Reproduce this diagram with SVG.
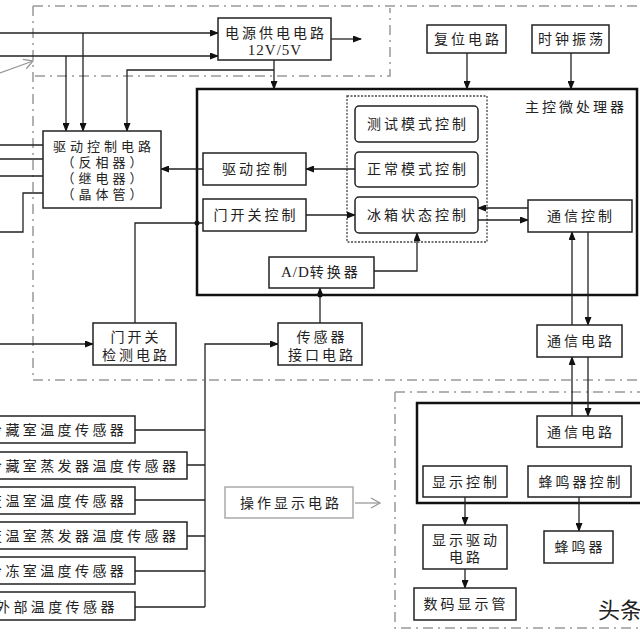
<svg xmlns="http://www.w3.org/2000/svg" width="640" height="640" viewBox="0 0 640 640">
<style>
.bg{fill:#fff}
.b{fill:#fff;stroke:#222;stroke-width:1.5}
.k{fill:#fff;stroke:#111;stroke-width:2.5}
.r{fill:#fff;stroke:#222;stroke-width:1.5}
.g{fill:#fff;stroke:#aaa;stroke-width:1.5}
.dd{fill:none;stroke:#999;stroke-width:1.5;stroke-dasharray:10,5,2,5}
.dot{fill:none;stroke:#444;stroke-width:1.3;stroke-dasharray:2,1.5}
.c{fill:none;stroke:#222;stroke-width:1.3}
.cg{fill:none;stroke:#999;stroke-width:1.3}
text{font-family:"Liberation Serif","Noto Sans CJK SC",serif;font-size:14px;letter-spacing:3px;fill:#222}
.m{text-anchor:middle}
.sm{font-size:13px;letter-spacing:4px}
.lat{font-size:15px;letter-spacing:1px}
</style>
<defs>
<marker id="a" markerWidth="9" markerHeight="7" refX="8" refY="3.5" orient="auto" markerUnits="userSpaceOnUse">
<path d="M0,0 L9,3.5 L0,7 z" fill="#111"/>
</marker>
<marker id="ag" markerWidth="12" markerHeight="12" refX="10" refY="6" orient="auto" markerUnits="userSpaceOnUse">
<path d="M1,1 L10,6 L1,11" fill="none" stroke="#999" stroke-width="1.3"/>
</marker>
</defs>
<rect class="bg" x="0" y="0" width="640" height="640"/>
<g id="regions">
<path class="dd" d="M33,6 H645 M33,6 V380 M33,380 H645 M35,76 H390 V8"/>
<path class="dd" d="M395,392 H645 M395,392 V628 H645"/>
</g>
<g id="mcu">
<rect class="k" x="197" y="89" width="440" height="206"/>
<text x="627" y="112" text-anchor="end" style="letter-spacing:3px">主控微处理器</text>
<rect class="dot" x="347" y="96" width="140" height="146"/>
</g>
<g id="board2">
<rect class="k" x="417" y="403" width="240" height="100"/>
</g>
<g id="connectors">
<path class="c" d="M0,33 H218" marker-end="url(#a)"/>
<path class="c" d="M0,56 H218" marker-end="url(#a)"/>
<path class="c" d="M83,33 V131" marker-end="url(#a)"/>
<path class="c" d="M66,56 V131" marker-end="url(#a)"/>
<path class="c" d="M331,39 H361" marker-end="url(#a)"/>
<path class="c" d="M274,60 V89" marker-end="url(#a)"/>
<path class="c" d="M274,70 H127 V131" marker-end="url(#a)"/>
<path class="c" d="M467,53 V89" marker-end="url(#a)"/>
<path class="c" d="M571,53 V89" marker-end="url(#a)"/>
<path class="c" d="M0,145 H43 M0,159 H43 M0,176 H43 M43,193 H23 V232 H0"/>
<path class="c" d="M203,169 H161" marker-end="url(#a)"/>
<path class="c" d="M355,169 H306" marker-end="url(#a)"/>
<path class="c" d="M306,215 H355" marker-end="url(#a)"/>
<path class="c" d="M135,323 V223 H203"/>
<circle cx="197" cy="223" r="2.5" fill="#111"/>
<path class="c" d="M0,344 H93" marker-end="url(#a)"/>
<path class="c" d="M374,271 H417 V233" marker-end="url(#a)"/>
<path class="c" d="M320,323 V288" marker-end="url(#a)"/>
<circle cx="320" cy="295" r="2.5" fill="#111"/>
<path class="c" d="M205,607 V344 H278" marker-end="url(#a)"/>
<path class="c" d="M135,430 H205 M187,465 H205 M135,500 H205 M187,536 H205 M135,571 H205 M135,607 H205"/>
<path class="c" d="M528,208 H478" marker-end="url(#a)"/>
<path class="c" d="M478,220 H528" marker-end="url(#a)"/>
<path class="c" d="M572,325 V232" marker-end="url(#a)"/>
<path class="c" d="M588,232 V325" marker-end="url(#a)"/>
<path class="c" d="M572,416 V357" marker-end="url(#a)"/>
<path class="c" d="M588,357 V416" marker-end="url(#a)"/>
<path class="c" d="M465,497 V525" marker-end="url(#a)"/>
<path class="c" d="M579,497 V531" marker-end="url(#a)"/>
<path class="c" d="M465,569 V588" marker-end="url(#a)"/>
<path class="cg" d="M0,73 L33,61" marker-end="url(#ag)"/>
<path class="cg" d="M355,503 H380" marker-end="url(#ag)"/>
</g>
<g id="power"><rect class="b" x="218" y="18" width="113" height="42"/>
<text class="m" x="276" y="38">电源供电电路</text>
<text class="m lat" x="275" y="55">12V/5V</text></g>
<g id="reset"><rect class="b" x="427" y="25" width="79" height="28"/><text class="m" x="468" y="44">复位电路</text></g>
<g id="clock"><rect class="b" x="532" y="25" width="77" height="28"/><text class="m" x="572" y="44">时钟振荡</text></g>
<g id="test"><rect class="r" x="355" y="106" width="123" height="36" rx="4"/><text class="m" x="418" y="129">测试模式控制</text></g>
<g id="normal"><rect class="r" x="355" y="152" width="123" height="35" rx="4"/><text class="m" x="418" y="174">正常模式控制</text></g>
<g id="state"><rect class="r" x="355" y="197" width="123" height="36" rx="4"/><text class="m" x="418" y="220">冰箱状态控制</text></g>
<g id="commctrl"><rect class="b" x="528" y="200" width="104" height="32"/><text class="m" x="581" y="221">通信控制</text></g>
<g id="drivectrl"><rect class="b" x="203" y="153" width="103" height="32"/><text class="m" x="256" y="174">驱动控制</text></g>
<g id="doorctrl"><rect class="b" x="203" y="199" width="103" height="32"/><text class="m" x="256" y="220">门开关控制</text></g>
<g id="ad"><rect class="b" x="269" y="257" width="105" height="31"/><text x="281" y="277"><tspan class="lat">A/D</tspan>转换器</text></g>
<g id="driver"><rect class="b" x="43" y="131" width="118" height="77"/>
<text class="m sm" x="104" y="151">驱动控制电路</text>
<text class="m sm" x="104" y="167">（反相器）</text>
<text class="m sm" x="104" y="183">（继电器）</text>
<text class="m sm" x="104" y="199">（晶体管）</text></g>
<g id="doordetect"><rect class="b" x="93" y="323" width="83" height="42"/>
<text class="m" x="136" y="342">门开关</text><text class="m" x="136" y="360">检测电路</text></g>
<g id="sensoriface"><rect class="b" x="278" y="323" width="84" height="42"/>
<text class="m" x="322" y="342">传感器</text><text class="m" x="322" y="360">接口电路</text></g>
<g id="s1"><rect class="b" x="-20" y="416" width="155" height="27"/><text x="-12" y="435" style="letter-spacing:3.4px">冷藏室温度传感器</text></g>
<g id="s2"><rect class="b" x="-20" y="452" width="207" height="27"/><text x="-12" y="471" style="letter-spacing:3.4px">冷藏室蒸发器温度传感器</text></g>
<g id="s3"><rect class="b" x="-20" y="487" width="155" height="27"/><text x="-12" y="506" style="letter-spacing:3.4px">变温室温度传感器</text></g>
<g id="s4"><rect class="b" x="-20" y="522" width="207" height="27"/><text x="-12" y="541" style="letter-spacing:3.4px">变温室蒸发器温度传感器</text></g>
<g id="s5"><rect class="b" x="-20" y="557" width="155" height="27"/><text x="-12" y="576" style="letter-spacing:3.4px">冷冻室温度传感器</text></g>
<g id="s6"><rect class="b" x="-20" y="592" width="155" height="28"/><text x="-4" y="612" style="letter-spacing:3.4px">外部温度传感器</text></g>
<g id="opdisplay"><rect class="g" x="225" y="487" width="128" height="31"/><text class="m" x="291" y="508">操作显示电路</text></g>
<g id="comm1"><rect class="b" x="537" y="325" width="85" height="32"/><text class="m" x="581" y="346">通信电路</text></g>
<g id="comm2"><rect class="b" x="537" y="416" width="85" height="31"/><text class="m" x="581" y="437">通信电路</text></g>
<g id="dispctrl"><rect class="b" x="423" y="466" width="84" height="31"/><text class="m" x="466" y="487">显示控制</text></g>
<g id="buzzctrl"><rect class="b" x="528" y="466" width="103" height="31"/><text class="m" x="581" y="487">蜂鸣器控制</text></g>
<g id="dispdrv"><rect class="b" x="423" y="525" width="84" height="44"/>
<text class="m" x="466" y="545">显示驱动</text><text class="m" x="466" y="562">电路</text></g>
<g id="buzzer"><rect class="b" x="544" y="531" width="69" height="32"/><text class="m" x="580" y="552">蜂鸣器</text></g>
<g id="tube"><rect class="b" x="414" y="588" width="102" height="32"/><text class="m" x="466" y="609">数码显示管</text></g>
<text x="598" y="618" style="font-size:22px;letter-spacing:0">头条</text>
</svg>
